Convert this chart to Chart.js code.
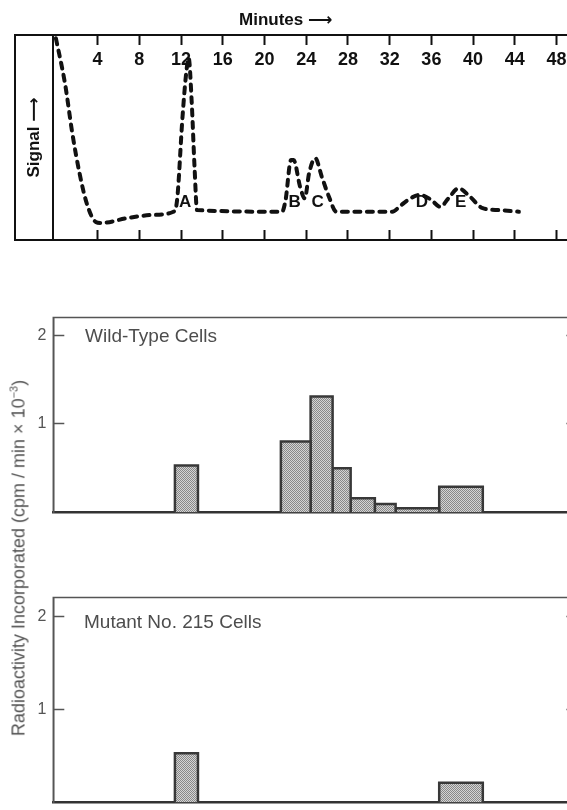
<!DOCTYPE html>
<html><head><meta charset="utf-8">
<script src="https://cdn.jsdelivr.net/npm/chart.js@4.4.1/dist/chart.umd.min.js"></script>
<style>
html,body{margin:0;padding:0;width:567px;height:810px;overflow:hidden;background:#fff;position:relative;}
canvas{position:absolute;left:0;}
.lbl{position:absolute;font-family:"Liberation Sans",Arial,"DejaVu Sans",sans-serif;white-space:nowrap;line-height:1;}
</style></head><body>
<canvas id="c1" width="600" height="262" style="top:0px"></canvas>
<canvas id="c2" width="600" height="250" style="top:290px"></canvas>
<canvas id="c3" width="600" height="260" style="top:570px"></canvas>
<div class="lbl" style="left:239px;top:11px;font-weight:bold;font-size:17px;color:#111">Minutes <span style="font-family:'DejaVu Sans'">⟶</span></div>
<div class="lbl" style="left:85px;top:326px;font-size:19px;color:#4d4d4d">Wild-Type Cells</div>
<div class="lbl" style="left:84px;top:612px;font-size:19px;color:#4d4d4d">Mutant No. 215 Cells</div>
<div class="lbl" style="left:18px;top:558px;font-size:18px;color:#555;transform:translate(-50%,-50%) rotate(-90deg);">Radioactivity Incorporated (cpm / min × 10<sup style="font-size:11px;vertical-align:7px">−3</sup>)</div>
<script>
// ---- data ----
const signalMinutes = [0, 0.87, 1.57, 2.26, 2.95, 3.82, 4.34, 6.77, 9.19, 11.27, 11.62, 12.14, 12.49, 12.73, 13.01, 13.29, 13.53,
  21.68, 22.02, 22.54, 22.79, 23.41, 23.86, 24.28, 24.87, 25.49, 26.18, 26.88, 32.25, 33.12, 34.16, 34.85, 35.9, 36.86,
  37.63, 38.6, 39.71, 40.92, 42.48, 44.39];
const signalValues = [98.4, 76.4, 52.2, 32.7, 18.0, 8.8, 8.3, 10.6, 12.2, 13.8, 19.5, 60.1, 81.3, 88.8, 68.3, 35.8, 14.6,
  13.8, 19.5, 39.0, 39.0, 26.0, 20.3, 32.7, 39.9, 30.9, 21.1, 13.8, 13.8, 17.1, 20.8, 22.0, 19.9, 16.2,
  20.3, 25.2, 21.1, 15.5, 14.6, 13.8];
const minuteTicks = [4, 8, 12, 16, 20, 24, 28, 32, 36, 40, 44, 48];
const peakNames = ['A', 'B', 'C', 'D', 'E'];
const peakMinutes = [12.4, 22.9, 25.1, 35.1, 38.8];
const fractionStart = [11.41, 21.57, 24.42, 26.53, 28.26, 30.58, 32.57, 36.75];
const fractionEnd   = [13.62, 24.42, 26.53, 28.26, 30.58, 32.57, 36.75, 40.93];
const wildTypeCpm = [0.53, 0.80, 1.31, 0.50, 0.16, 0.096, 0.047, 0.29];
const mutantCpm   = [0.527, 0, 0, 0, 0, 0, 0, 0.21];
const radioTicks = [1, 2];

const FONT = "'Liberation Sans', 'DejaVu Sans', Arial, sans-serif";
const X_MIN = -0.25, X_MAX = 50;

const framePlugin = {
  id: 'frame',
  afterDraw(chart, args, o) {
    const {ctx, chartArea: a} = chart;
    const left = o.fromScale ? chart.scales[o.fromScale].left : a.left;
    ctx.save();
    ctx.strokeStyle = o.color; ctx.lineWidth = o.width;
    ctx.beginPath();
    if (o.full) {
      ctx.rect(left, a.top, a.right + 10 - left, a.bottom - a.top);
    } else {
      ctx.moveTo(a.left, a.bottom); ctx.lineTo(a.left, a.top); ctx.lineTo(a.right, a.top); ctx.lineTo(a.right, a.bottom);
    }
    ctx.stroke();
    ctx.restore();
  }
};

const peakPlugin = {
  id: 'peaks',
  afterDatasetsDraw(chart) {
    const {ctx, chartArea: a} = chart;
    const x = chart.scales.x;
    ctx.save();
    ctx.font = "bold 17px " + FONT;
    ctx.fillStyle = '#111';
    ctx.textAlign = 'center'; ctx.textBaseline = 'middle';
    peakNames.forEach((n, i) => ctx.fillText(n, x.getPixelForValue(peakMinutes[i]), a.bottom - 38));
    ctx.restore();
  }
};

const setTicks = arr => s => { s.ticks = arr.map(v => ({value: v})); };

// ---- top chromatogram ----
new Chart(document.getElementById('c1'), {
  type: 'line',
  data: {datasets: [{
    data: signalMinutes.map((m, i) => ({x: m, y: signalValues[i]})),
    borderColor: '#111', borderWidth: 4, borderDash: [6, 6.5], borderCapStyle: 'round',
    pointRadius: 0, fill: false, cubicInterpolationMode: 'monotone', clip: false
  }]},
  options: {
    responsive: false, animation: false, devicePixelRatio: 1,
    layout: {padding: {left: 15, right: 22.6, top: 35, bottom: 0}},
    plugins: {legend: {display: false}, tooltip: {enabled: false},
      frame: {fromScale: 'y', color: '#111', width: 2, full: true}},
    scales: {
      x: {type: 'linear', position: {y: 100}, min: X_MIN, max: X_MAX,
        afterBuildTicks: setTicks(minuteTicks),
        grid: {display: true, drawOnChartArea: false, drawTicks: true, tickLength: 10, tickWidth: 2, tickColor: '#111'},
        border: {display: false},
        ticks: {padding: 4, color: '#111', maxRotation: 0, autoSkip: false, font: {family: FONT, weight: 'bold', size: 18}}},
      x2: {type: 'linear', position: 'bottom', min: X_MIN, max: X_MAX,
        afterBuildTicks: setTicks(minuteTicks), afterFit: s => { s.height = 22; },
        grid: {display: true, drawOnChartArea: false, drawTicks: true, tickLength: -10, tickWidth: 2, tickColor: '#111'},
        border: {display: false}, ticks: {display: false}},
      y: {min: 0, max: 100, afterFit: s => { s.width = 38.3; },
        ticks: {display: false}, grid: {display: false},
        border: {display: true, width: 2, color: '#111'},
        title: {display: true, text: 'Signal ⟶', color: '#111', padding: {top: 9, bottom: 0},
          font: {family: FONT, weight: 'bold', size: 17}}}
    }
  },
  plugins: [framePlugin, peakPlugin]
});

// ---- incorporation histograms ----
function histogram(canvasId, values, padTop, axisH) {
  const el = document.getElementById(canvasId);
  const pc = document.createElement('canvas'); pc.width = 2; pc.height = 2;
  const p = pc.getContext('2d');
  p.fillStyle = '#d4d4d4'; p.fillRect(0, 0, 2, 2);
  p.fillStyle = '#888888'; p.fillRect(0, 0, 1, 1); p.fillRect(1, 1, 1, 1);
  const stipple = el.getContext('2d').createPattern(pc, 'repeat');
  const datasets = [];
  values.forEach((v, i) => {
    if (v <= 0) return;
    datasets.push({
      data: [{x: fractionStart[i], y: 0}, {x: fractionStart[i], y: v}, {x: fractionEnd[i], y: v}, {x: fractionEnd[i], y: 0}],
      fill: 'origin', backgroundColor: stipple, borderColor: '#383838', borderWidth: 2.5,
      borderJoinStyle: 'miter', pointRadius: 0, tension: 0
    });
  });
  return new Chart(el, {
    type: 'line',
    data: {datasets},
    options: {
      responsive: false, animation: false, devicePixelRatio: 1,
      layout: {padding: {left: 0, right: 0, top: padTop, bottom: 0}},
      plugins: {legend: {display: false}, tooltip: {enabled: false},
        frame: {color: '#555', width: 1.5, full: false}},
      scales: {
        x: {type: 'linear', min: X_MIN, max: X_MAX, z: 1, afterFit: s => { s.height = axisH; },
          ticks: {display: false}, grid: {display: false},
          border: {display: true, width: 2.5, color: '#333'}},
        y: {min: 0, max: 2.2, afterBuildTicks: setTicks(radioTicks), afterFit: s => { s.width = 53.3; },
          grid: {display: true, drawOnChartArea: false, tickLength: -11, tickWidth: 1.5, tickColor: '#555'},
          border: {display: true, width: 1.5, color: '#555'},
          ticks: {padding: 18, color: '#555', font: {family: FONT, size: 16}}},
        yR: {position: 'right', min: 0, max: 2.2, afterBuildTicks: setTicks(radioTicks), afterFit: s => { s.width = 22.6; },
          grid: {display: true, drawOnChartArea: false, tickLength: -11, tickWidth: 1.5, tickColor: '#555'},
          border: {display: true, width: 1.5, color: '#555'}, ticks: {display: false}}
      }
    },
    plugins: [framePlugin]
  });
}
histogram('c2', wildTypeCpm, 11.7, 13.5);
histogram('c3', mutantCpm, 18, 16.6);
</script>
</body></html>
